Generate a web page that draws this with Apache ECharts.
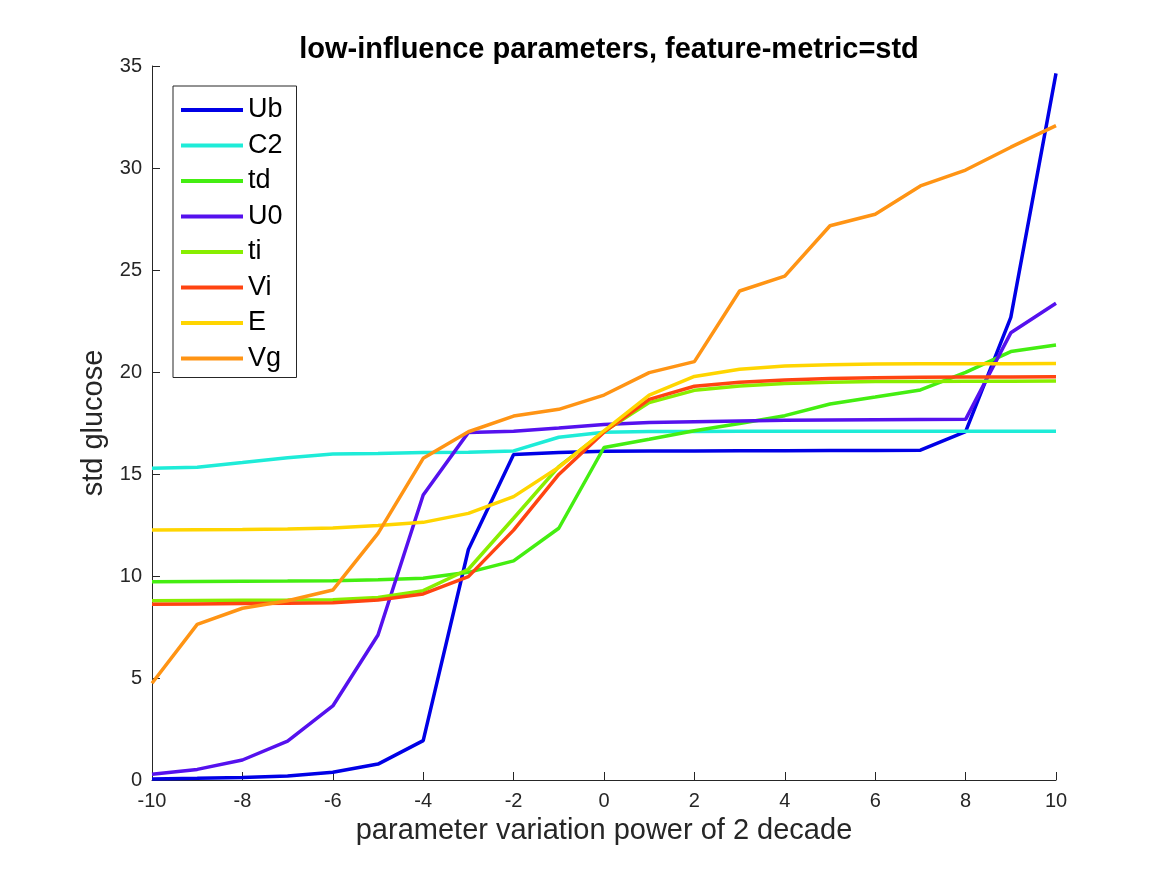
<!DOCTYPE html>
<html>
<head>
<meta charset="utf-8">
<title>low-influence parameters</title>
<script src="https://cdn.jsdelivr.net/npm/echarts@6/dist/echarts.min.js"></script>
<style>
  html, body { margin: 0; padding: 0; background: #fff; }
  #chart { width: 1167px; height: 875px; }
</style>
</head>
<body>
<div id="chart"></div>
<script>
// x: power-of-2 decade, -10 .. 10
const steps = [-10, -9, -8, -7, -6, -5, -4, -3, -2, -1, 0, 1, 2, 3, 4, 5, 6, 7, 8, 9, 10]

// std glucose per parameter
const Ub = [0.05, 0.08, 0.12, 0.2, 0.38, 0.78, 1.93, 11.3, 15.95, 16.05, 16.12, 16.13, 16.13, 16.14, 16.14, 16.15, 16.15, 16.17, 17.08, 22.68, 34.64]
const C2 = [15.28, 15.33, 15.56, 15.8, 15.98, 16.01, 16.05, 16.07, 16.13, 16.8, 17.05, 17.08, 17.08, 17.09, 17.09, 17.1, 17.1, 17.1, 17.1, 17.1, 17.1]
const td = [9.72, 9.73, 9.74, 9.75, 9.77, 9.82, 9.89, 10.18, 10.74, 12.34, 16.3, 16.7, 17.12, 17.48, 17.86, 18.43, 18.77, 19.12, 19.98, 21.0, 21.32]
const U0 = [0.28, 0.52, 0.98, 1.91, 3.63, 7.11, 13.97, 17.04, 17.1, 17.25, 17.43, 17.52, 17.56, 17.6, 17.63, 17.65, 17.66, 17.67, 17.68, 21.92, 23.37]
const ti = [8.79, 8.8, 8.81, 8.82, 8.84, 8.95, 9.28, 10.33, 12.83, 15.36, 17.08, 18.5, 19.1, 19.31, 19.44, 19.5, 19.53, 19.54, 19.55, 19.55, 19.56]
const Vi = [8.61, 8.63, 8.65, 8.67, 8.69, 8.82, 9.12, 9.97, 12.25, 14.98, 17.05, 18.66, 19.3, 19.5, 19.61, 19.68, 19.72, 19.74, 19.75, 19.76, 19.77]
const E = [12.25, 12.27, 12.28, 12.3, 12.35, 12.47, 12.63, 13.07, 13.89, 15.33, 17.12, 18.87, 19.78, 20.13, 20.29, 20.36, 20.39, 20.4, 20.41, 20.41, 20.42]
const Vg = [4.74, 7.63, 8.42, 8.79, 9.31, 12.09, 15.77, 17.07, 17.84, 18.17, 18.87, 19.97, 20.51, 23.97, 24.7, 27.17, 27.73, 29.12, 29.9, 31.02, 32.08]

const names = ['Ub', 'C2', 'td', 'U0', 'ti', 'Vi', 'E', 'Vg']
const values = [Ub, C2, td, U0, ti, Vi, E, Vg]
const colors = ['#0000e6', '#1eecd8', '#44ee11', '#5511ee', '#88ee00', '#ff4411', '#ffd500', '#ff9414']

const ink = '#262626'
const font = 'Liberation Sans, Arial, Helvetica, sans-serif'

const chart = echarts.init(document.getElementById('chart'))

chart.setOption({
  animation: false,
  backgroundColor: '#fff',
  color: colors,
  title: {
    text: 'low-influence parameters, feature-metric=std',
    left: 604,
    top: 30,
    textAlign: 'center',
    textStyle: { fontFamily: font, fontSize: 29, fontWeight: 'bold', color: '#000' }
  },
  legend: {
    orient: 'vertical',
    left: 173,
    top: 86,
    padding: [10, 14, 5, 8],
    itemGap: 7.5,
    itemWidth: 62,
    itemHeight: 4,
    icon: 'rect',
    borderColor: ink,
    borderWidth: 1,
    backgroundColor: '#fff',
    textStyle: { fontFamily: font, fontSize: 27, lineHeight: 28, color: '#000' },
    data: names
  },
  grid: { left: 152, right: 111, top: 66, bottom: 95 },
  xAxis: {
    type: 'value',
    min: -10,
    max: 10,
    interval: 2,
    name: 'parameter variation power of 2 decade',
    nameLocation: 'middle',
    nameGap: 36,
    nameTextStyle: { fontFamily: font, fontSize: 29, color: ink, verticalAlign: 'top' },
    axisLine: { onZero: false, lineStyle: { color: ink, width: 1 } },
    axisTick: { inside: true, length: 8, lineStyle: { color: ink } },
    axisLabel: { margin: 11, fontFamily: font, fontSize: 20, color: ink },
    splitLine: { show: false }
  },
  yAxis: {
    type: 'value',
    min: 0,
    max: 35,
    interval: 5,
    name: 'std glucose',
    nameLocation: 'middle',
    nameGap: 44,
    nameTextStyle: { fontFamily: font, fontSize: 29, color: ink },
    axisLine: { show: true, onZero: false, lineStyle: { color: ink, width: 1 } },
    axisTick: { show: true, inside: true, length: 8, lineStyle: { color: ink } },
    axisLabel: { margin: 10, fontFamily: font, fontSize: 20, color: ink },
    splitLine: { show: false }
  },
  series: names.map((name, i) => ({
    name: name,
    type: 'line',
    data: steps.map((x, j) => [x, values[i][j]]),
    symbol: 'none',
    lineStyle: { width: 3.5, color: colors[i] },
    itemStyle: { color: colors[i] },
    z: 2 + i
  }))
})
</script>
</body>
</html>
